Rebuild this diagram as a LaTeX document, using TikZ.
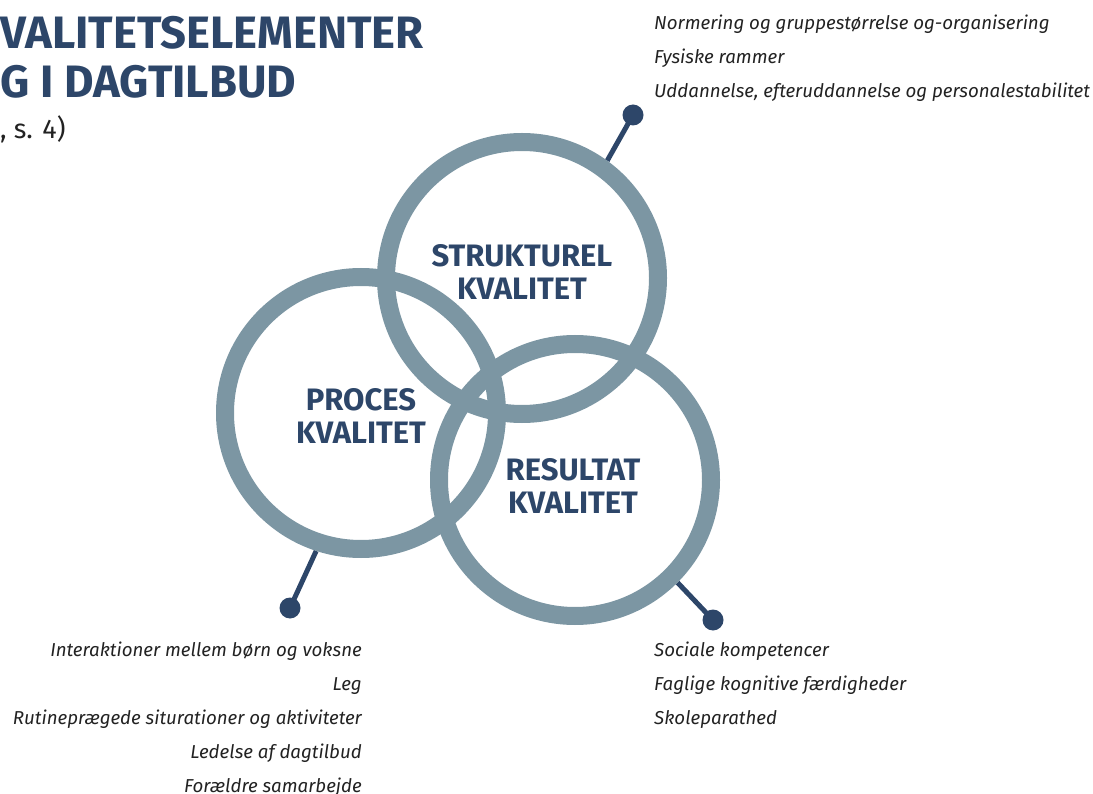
\documentclass[tikz,border=0pt]{standalone}
\usepackage{fontspec}
\setmainfont{Fira Sans}
\usetikzlibrary{backgrounds}
\definecolor{ringgrey}{HTML}{7C96A3}
\definecolor{navy}{HTML}{2D4669}
\definecolor{itemtext}{HTML}{222222}
\begin{document}
\begin{tikzpicture}[x=1pt,y=-1pt,
  ring/.style={circle, draw=ringgrey, line width=18pt, minimum size=272pt, inner sep=0pt},
  ringlabel/.style={align=center, text=navy, inner sep=0pt,
    font=\bfseries\fontsize{31}{33}\selectfont},
  stem/.style={draw=navy, line width=5pt},
  pin/.style={circle, fill=navy, minimum size=21pt, inner sep=0pt},
  items/.style={font=\itshape\fontsize{18.7}{34}\selectfont, text=itemtext, inner sep=0pt},
  heading/.style={font=\bfseries\fontsize{45.4}{48}\selectfont, text=navy, inner sep=0pt, anchor=west},
  source/.style={font=\fontsize{27}{30}\selectfont, text=itemtext, inner sep=0pt, anchor=west}]
\useasboundingbox (0,0) rectangle (1093,794);

% heading
\node[heading] (head1) at (0,33) {VALITETSELEMENTER};
\node[heading] (head2) at (0,82) {G I DAGTILBUD};
\node[source] (src) at (0,129) {, s. 4)};

% the three quality circles
\node[ring] (strukt) at (522,278) {};
\node[ring] (proc) at (361,413) {};
\node[ring] (res) at (575,480) {};

\node[ringlabel] (struktlabel) at (522,271.5) {STRUKTUREL\\KVALITET};
\node[ringlabel] (proclabel) at (361,415.5) {PROCES\\KVALITET};
\node[ringlabel] (reslabel) at (573,486) {RESULTAT\\KVALITET};

% pins
\node[pin] (sdot) at (633,115) {};
\node[pin] (pdot) at (290,608) {};
\node[pin] (rdot) at (713,620) {};

% stems run under the rings
\begin{pgfonlayer}{background}
\draw[stem] (strukt.54) -- (sdot.center);
\draw[stem] (proc.-108) -- (pdot.center);
\draw[stem] (res.-45) -- (rdot.center);
\end{pgfonlayer}

% item lists
\node[items, anchor=west, align=left] (slist) at (654,58)
  {Normering og gruppestørrelse og-organisering\\Fysiske rammer\\Uddannelse, efteruddannelse og personalestabilitet};
\node[items, anchor=east, align=right] (plist) at (362,719)
  {Interaktioner mellem børn og voksne\\Leg\\Rutineprægede siturationer og aktiviteter\\Ledelse af dagtilbud\\Forældre samarbejde};
\node[items, anchor=west, align=left] (rlist) at (654,685)
  {Sociale kompetencer\\Faglige kognitive færdigheder\\Skoleparathed};
\end{tikzpicture}
\end{document}
